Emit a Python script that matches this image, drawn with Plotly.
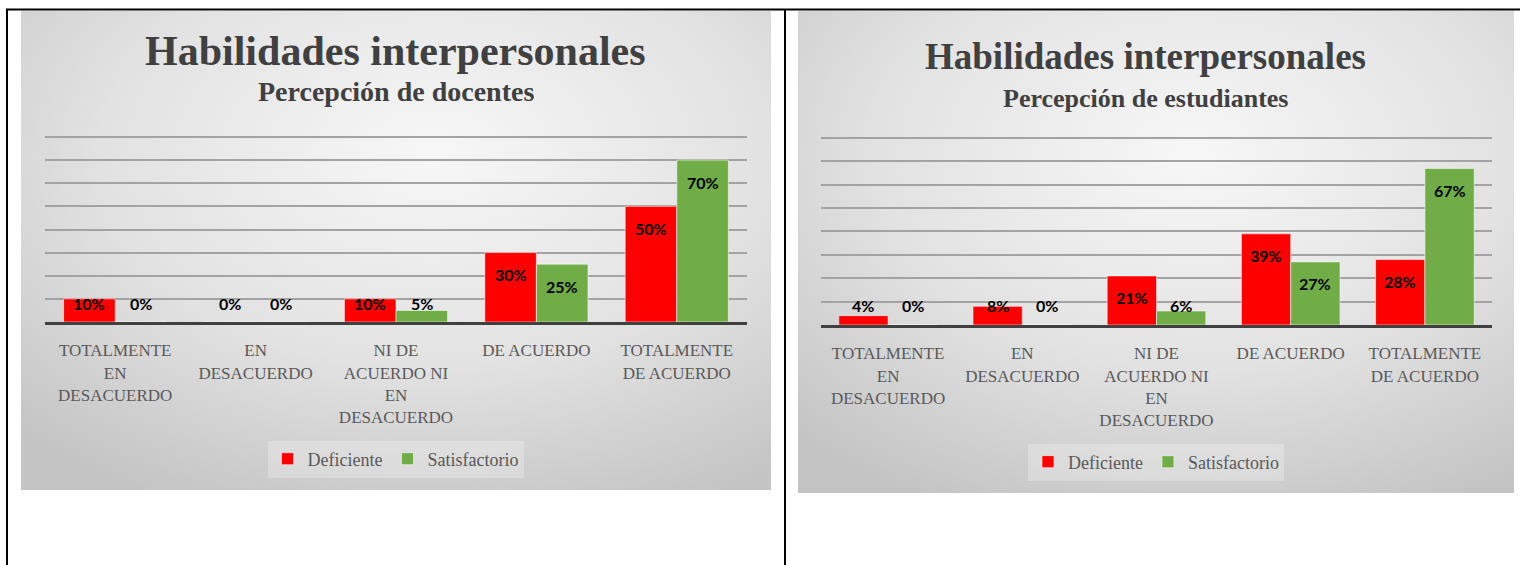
import base64
import plotly.graph_objects as go

# figure size in px (margins are 0, so paper coords == page coords)
W, H = 1520, 565

categorias = ["TOTALMENTE<br>EN<br>DESACUERDO", "EN<br>DESACUERDO",
              "NI DE<br>ACUERDO NI<br>EN<br>DESACUERDO", "DE ACUERDO",
              "TOTALMENTE<br>DE ACUERDO"]

deficiente_docentes = [10, 0, 10, 30, 50]
satisfactorio_docentes = [0, 0, 5, 25, 70]
deficiente_estudiantes = [4, 8, 21, 39, 28]
satisfactorio_estudiantes = [0, 0, 6, 27, 67]

series_names = ["Deficiente", "Satisfactorio"]
series_colors = ["#FF0000", "#70AD47"]

titulo = "Habilidades interpersonales"
subtitulos = ["Percepción de docentes", "Percepción de estudiantes"]

BARGAP = 0.265
YTOP = 80       # last gridline
YMAX = 80.6     # a bit of room so the top gridline gets drawn
SERIF = "Liberation Serif, Times New Roman, serif"
GRAY_TXT = "#595959"


def px_x(x):
    return x / W


def px_y(y):
    return 1 - y / H


def gradient_uri():
    svg = ("<svg xmlns='http://www.w3.org/2000/svg' width='100' height='100' "
           "preserveAspectRatio='none' viewBox='0 0 100 100'><defs>"
           "<radialGradient id='g' cx='55%' cy='30%' r='80%'>"
           "<stop offset='0' stop-color='#F7F7F7'/>"
           "<stop offset='0.55' stop-color='#E2E2E2'/>"
           "<stop offset='1' stop-color='#C4C4C4'/>"
           "</radialGradient></defs>"
           "<rect width='100' height='100' fill='url(#g)'/></svg>")
    return "data:image/svg+xml;base64," + base64.b64encode(svg.encode()).decode()


# panel boxes / plot areas in page pixels (plot = left, 80%-line, right, axis)
charts = [
    dict(panel=(21, 11, 771, 490), plot=(45, 137, 747, 322),
         data=(deficiente_docentes, satisfactorio_docentes),
         title_xy=(395.5, 51), title_size=42, sub_y=92, sub_size=28,
         legend_xy=(395.5, 459), sub=subtitulos[0]),
    dict(panel=(798, 11, 1514, 493), plot=(821, 138, 1492, 325),
         data=(deficiente_estudiantes, satisfactorio_estudiantes),
         title_xy=(1145.5, 57), title_size=37, sub_y=98, sub_size=26,
         legend_xy=(1156, 462), sub=subtitulos[1]),
]

fig = go.Figure()
annotations = []
images = []
layout_axes = {}

for k, ch in enumerate(charts):
    sfx = "" if k == 0 else str(k + 1)
    xa, ya = "x" + sfx, "y" + sfx
    leg = "legend" + sfx
    x0, y0, x1, y1 = ch["plot"]
    ppu = (y1 - y0) / float(YTOP)
    ytop_px = y1 - YMAX * ppu

    for vals, name, color in zip(ch["data"], series_names, series_colors):
        fig.add_trace(go.Bar(x=list(range(len(categorias))), y=vals, name=name,
                             marker=dict(color=color, line=dict(color="rgba(255,255,255,0.55)", width=1)),
                             xaxis=xa, yaxis=ya, legend=leg))

    # data labels (Excel style: inside end, or just above the axis for small bars)
    bw = (1 - BARGAP) / 2
    for j, vals in enumerate(ch["data"]):
        for i, v in enumerate(vals):
            shift = max(v * ppu - 22, 19)
            annotations.append(dict(x=i + (j - 0.5) * bw, y=0, xref=xa, yref=ya,
                                    text=f"{v}%", showarrow=False, yshift=shift,
                                    yanchor="middle",
                                    font=dict(family="Lato, Open Sans, sans-serif", size=16,
                                              color="#000000", weight="bold")))

    tx, ty = ch["title_xy"]
    annotations.append(dict(x=px_x(tx), y=px_y(ty), xref="paper", yref="paper",
                            text="<b>" + titulo + "</b>", showarrow=False,
                            xanchor="center", yanchor="middle",
                            font=dict(family=SERIF, size=ch["title_size"], color="#404040")))
    annotations.append(dict(x=px_x(tx), y=px_y(ch["sub_y"]), xref="paper", yref="paper",
                            text="<b>" + ch["sub"] + "</b>", showarrow=False,
                            xanchor="center", yanchor="middle",
                            font=dict(family=SERIF, size=ch["sub_size"], color="#404040")))

    px0, py0, px1, py1 = ch["panel"]
    images.append(dict(source=gradient_uri(), xref="paper", yref="paper",
                       x=px_x(px0), y=px_y(py0), sizex=(px1 - px0) / W, sizey=(py1 - py0) / H,
                       xanchor="left", yanchor="top", sizing="stretch", layer="below"))

    layout_axes["xaxis" + sfx] = dict(domain=[px_x(x0), px_x(x1)], anchor=ya,
                                      range=[-0.5, len(categorias) - 0.5],
                                      tickmode="array", tickvals=list(range(len(categorias))),
                                      ticktext=categorias, showgrid=False, zeroline=False,
                                      showline=True, linecolor="#404040", linewidth=3,
                                      ticks="", ticklabelstandoff=11,
                                      tickfont=dict(family=SERIF, size=17, color=GRAY_TXT))
    layout_axes["yaxis" + sfx] = dict(domain=[px_y(y1), px_y(ytop_px)], anchor=xa,
                                      range=[0, YMAX], tick0=0, dtick=10, showgrid=True,
                                      gridcolor="#A3A3A3", gridwidth=1.5,
                                      zeroline=False, showticklabels=False)
    lx, ly = ch["legend_xy"]
    layout_axes[leg] = dict(orientation="h", x=px_x(lx), y=px_y(ly),
                            xanchor="center", yanchor="middle",
                            bgcolor="rgba(255,255,255,0.25)",
                            font=dict(family=SERIF, size=18, color=GRAY_TXT),
                            itemwidth=30)

# table borders around the two charts
border = dict(color="#000000", width=2)
shapes = [
    dict(type="line", xref="paper", yref="paper", x0=px_x(6), x1=1, y0=px_y(9.5), y1=px_y(9.5), line=border),
    dict(type="line", xref="paper", yref="paper", x0=px_x(7), x1=px_x(7), y0=px_y(9), y1=0, line=border),
    dict(type="line", xref="paper", yref="paper", x0=px_x(785), x1=px_x(785), y0=px_y(9), y1=0, line=border),
]

fig.update_layout(width=W, height=H, margin=dict(l=0, r=0, t=0, b=0),
                  paper_bgcolor="#FFFFFF", plot_bgcolor="rgba(0,0,0,0)",
                  barmode="group", bargap=BARGAP, bargroupgap=0,
                  annotations=annotations, images=images, shapes=shapes,
                  **layout_axes)

# drop the browser's default 8px body margin so the page lines up with the figure
fig.write_html("out.html", config={"displayModeBar": False},
               post_script="document.body.style.margin='0';")
